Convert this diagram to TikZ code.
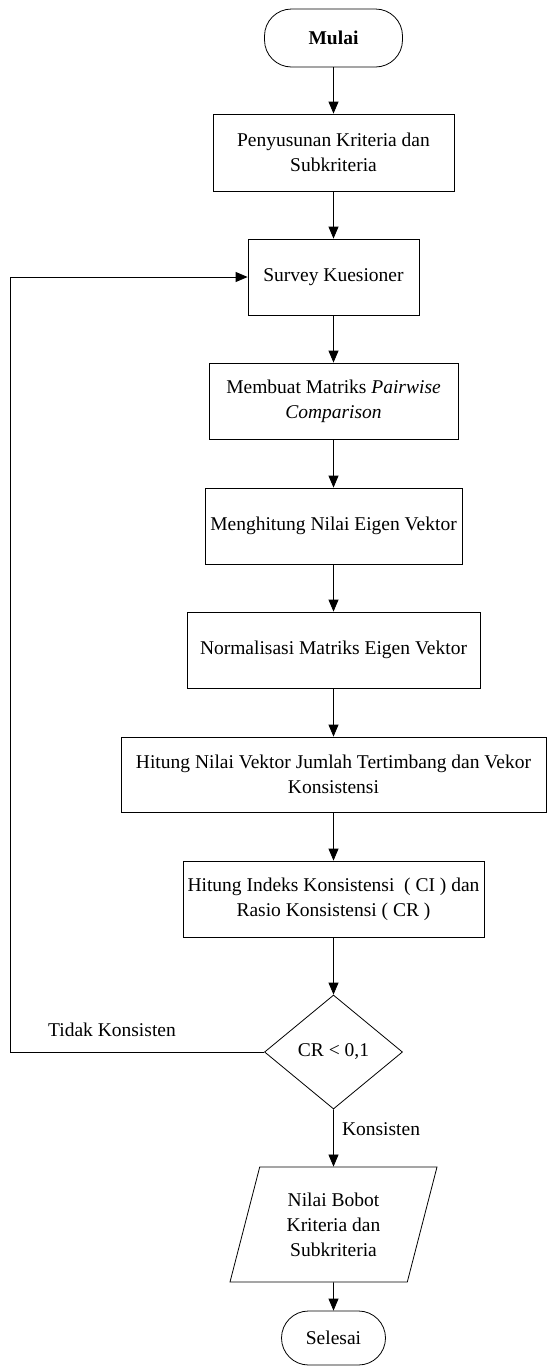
\documentclass[tikz,border=0pt]{standalone}
\usepackage{fontspec}
\setmainfont{Liberation Serif}
\usetikzlibrary{arrows.meta,shapes.geometric}
\begin{document}
\begin{tikzpicture}[x=1pt,y=-1pt,
  font=\fontsize{19.5}{25}\selectfont,
  every path/.style={line width=0.8pt},
  proses/.style={draw,rectangle,align=center,inner sep=2pt},
  terminal/.style={draw,rectangle,rounded corners=27pt,align=center},
  keputusan/.style={draw,diamond,aspect=1.2,inner sep=0pt},
  data/.style={draw,trapezium,trapezium left angle=65,trapezium right angle=115,
    trapezium stretches body,align=center,inner sep=0pt},
  panah/.style={-{Triangle[length=12pt,width=10pt]}}]
\useasboundingbox (0,0) rectangle (547,1366);
\path node[terminal,minimum width=138,minimum height=58] (mulai) at (333.5,38) {\textbf{Mulai}}
node[proses,minimum width=241,minimum height=77] (kriteria) at (333.5,152.5) {Penyusunan Kriteria dan\\Subkriteria}
node[proses,minimum width=171,minimum height=76] (survey) at (333.5,277) {Survey Kuesioner}
node[proses,minimum width=249,minimum height=76] (pairwise) at (333.5,401) {Membuat Matriks \textit{Pairwise}\\\textit{Comparison}}
node[proses,minimum width=257,minimum height=76] (eigen) at (333.5,526) {Menghitung Nilai Eigen Vektor}
node[proses,minimum width=293,minimum height=76] (normal) at (333.5,650) {Normalisasi Matriks Eigen Vektor}
node[proses,minimum width=425,minimum height=75] (vektor) at (333.5,774.5) {Hitung Nilai Vektor Jumlah Tertimbang dan Vekor\\Konsistensi}
node[proses,minimum width=301,minimum height=76] (indeks) at (333.5,899) {Hitung Indeks Konsistensi~ ( CI ) dan\\Rasio Konsistensi ( CR )}
node[keputusan,minimum width=138,minimum height=114] (cek) at (333.5,1052) {CR < 0,1}
node[data,minimum width=207,minimum height=115] (bobot) at (333.5,1224.5) {Nilai Bobot\\Kriteria dan\\Subkriteria}
node[terminal,minimum width=104,minimum height=54] (selesai) at (333.5,1338) {Selesai}
node (tidak) at (112,1030) {Tidak Konsisten}
node (ya) at (381,1129) {Konsisten}
;
\coordinate (balik) at (10,277);
\draw[panah] (mulai) -- (kriteria);
\draw[panah] (kriteria) -- (survey);
\draw[panah] (survey) -- (pairwise);
\draw[panah] (pairwise) -- (eigen);
\draw[panah] (eigen) -- (normal);
\draw[panah] (normal) -- (vektor);
\draw[panah] (vektor) -- (indeks);
\draw[panah] (indeks) -- (cek);
\draw[panah] (cek) -- (bobot);
\draw[panah] (bobot) -- (selesai);
\draw[panah] (cek.west) -| (balik) -- (survey.west);
\end{tikzpicture}
\end{document}
